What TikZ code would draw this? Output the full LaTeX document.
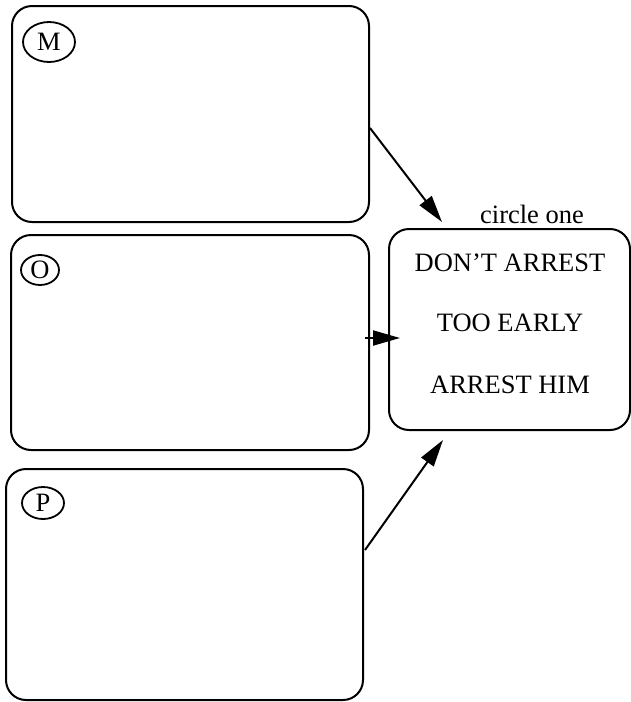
\documentclass[tikz,border=0pt]{standalone}
\usepackage{fontspec}
\setmainfont{Liberation Serif}
\usetikzlibrary{arrows.meta}
\tikzset{
  panel/.style={draw,line width=2pt,rounded corners=20pt,inner sep=0pt},
  tag/.style={draw,ellipse,line width=1.8pt,inner sep=0pt},
  word/.style={font=\fontsize{26.5}{30}\selectfont},
  arr/.style={line width=2pt,-{Triangle[length=27pt,width=15pt]}}
}
\usetikzlibrary{shapes.geometric}

\begin{document}
\begin{tikzpicture}[x=1pt,y=-1pt]
\useasboundingbox (0,0) rectangle (631,702);
\node[panel,minimum width=357pt,minimum height=216pt] (M) at (190.5,114) {};
\node[panel,minimum width=358pt,minimum height=215pt] (O) at (190,342.5) {};
\node[panel,minimum width=357pt,minimum height=231pt] (P) at (184.5,584.5) {};
\node[panel,minimum width=241pt,minimum height=201pt] (choice) at (509.5,329.5) {};
\node[tag,minimum width=52pt,minimum height=40pt,word] (m) at (49,42) {M};
\node[tag,minimum width=38pt,minimum height=30pt,word] (o) at (40,270) {O};
\node[tag,minimum width=42pt,minimum height=32pt,word] (p) at (43,503) {P};
\node[word] (hint) at (532,214) {circle one};
\node[word] (dont) at (510,263) {DON'T ARREST};
\node[word] (early) at (510,323) {TOO EARLY};
\node[word] (arrest) at (510,385) {ARREST HIM};
\coordinate (mOut) at (370,128);
\coordinate (mIn) at (442,222);
\coordinate (oOut) at (365,338);
\coordinate (oIn) at (400,338);
\coordinate (pOut) at (365,550);
\coordinate (pIn) at (443,440);
\draw[arr] (mOut)--(mIn);
\draw[arr] (oOut)--(oIn);
\draw[arr] (pOut)--(pIn);
\end{tikzpicture}
\end{document}
